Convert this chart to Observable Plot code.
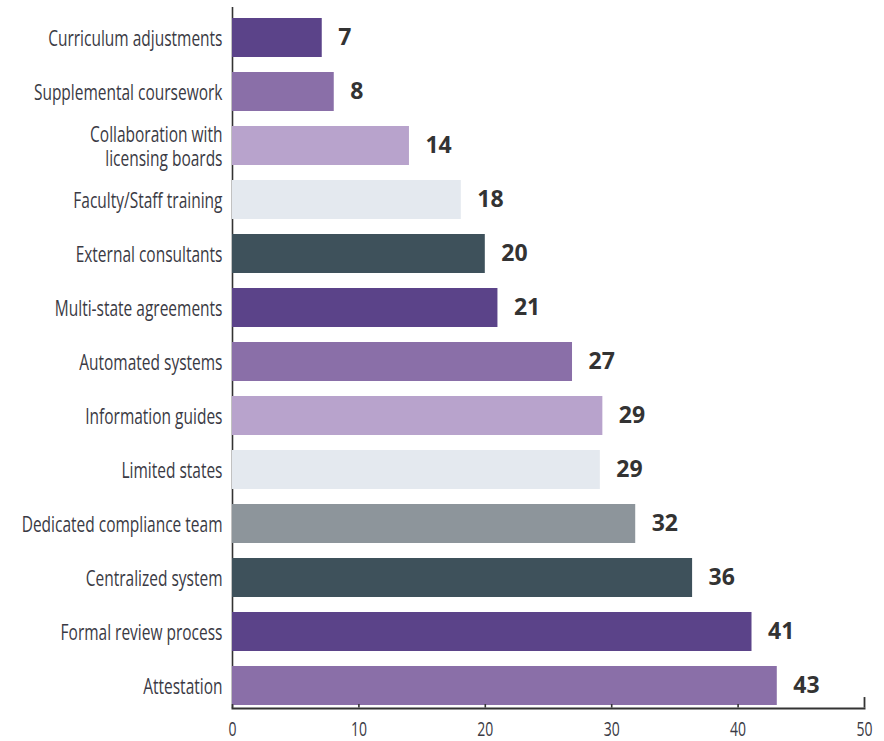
<!DOCTYPE html>
<html><head><meta charset="utf-8">
<script src="https://cdn.jsdelivr.net/npm/d3@7"></script>
<script src="https://cdn.jsdelivr.net/npm/@observablehq/plot@0.6"></script>
<style>body{margin:0;background:#fff}</style>
</head><body><div id="chart"></div>
<script>
const categories = ["Curriculum adjustments","Supplemental coursework","Collaboration with\nlicensing boards","Faculty/Staff training","External consultants","Multi-state agreements","Automated systems","Information guides","Limited states","Dedicated compliance team","Centralized system","Formal review process","Attestation"];
const values = [7.1, 8.05, 14, 18.1, 20, 21, 26.9, 29.3, 29.1, 31.9, 36.4, 41.1, 43.1];
const valueLabels = ["7","8","14","18","20","21","27","29","29","32","36","41","43"];
const colors = ["#5b4389","#8a6fa8","#b8a3cc","#e4e9ef","#3e515b","#5b4389","#8a6fa8","#b8a3cc","#e4e9ef","#8d959b","#3e515b","#5b4389","#8a6fa8"];
const xTicks = [0,10,20,30,40,50];

const data = categories.map((c,i)=>({category:c, value:values[i], label:valueLabels[i], color:colors[i]}));

const W = 884, H = 741, MT = 7, MB = 33;
const padIn = 0.27, padOut = 0.12, align = 0.8;
// band geometry, used only to place the small axis tick marks at the frame bottom
const rangeH = H - MT - MB;
const step = rangeH / (categories.length - padIn + 2 * padOut);
const bw = step * (1 - padIn);
const lastBandEnd = MT + (rangeH - step * (categories.length - padIn)) * align + step * (categories.length - 1) + bw;
const shift = (H - MB) - lastBandEnd;
const lastCat = categories[categories.length - 1];

const chart = Plot.plot({
  width: W, height: H,
  marginTop: MT, marginBottom: MB, marginLeft: 232, marginRight: 20,
  style: {fontFamily: "'Open Sans', sans-serif", color: "#333", background: "#fff"},
  x: {domain: [0,50]},
  y: {domain: categories, paddingInner: padIn, paddingOuter: padOut, align},
  color: {type: "identity"},
  marks: [
    Plot.ruleX([0], {stroke:"#333", strokeWidth:1.6}),
    Plot.barX(data, {y:"category", x:"value", fill:"color"}),
    Plot.text(data, {y:"category", x:"value", text:"label", textAnchor:"start", dx:16, fontSize:23, fontWeight:"bold", fill:"#333"}),
    Plot.axisY({tickSize:0, tickPadding:10, fontSize:15.5, lineHeight:1.1, fill:"#3a3a44", label:null}),
    Plot.axisX({ticks:xTicks, tickSize:0, tickPadding:13, fontSize:14, fill:"#3a3a44", label:null}),
    Plot.frame({anchor:"bottom", stroke:"#333", strokeWidth:2}),
    Plot.ruleX(xTicks.slice(0,5), {x:d=>d, y1:()=>lastCat, y2:()=>lastCat, insetTop: bw - 4, dy: shift, stroke:"#333", strokeWidth:1.6}),
    Plot.ruleX(xTicks.slice(5), {x:d=>d, y1:()=>lastCat, y2:()=>lastCat, insetTop: bw - 11, dy: shift, stroke:"#333", strokeWidth:1.8})
  ]
});
document.getElementById("chart").appendChild(chart);

function stretch(sel, k) {
  chart.querySelectorAll(sel).forEach(t => {
    const tr = t.getAttribute("transform") || "";
    t.setAttribute("transform", tr + ` scale(1,${k})`);
  });
}
stretch('g[aria-label="y-axis tick label"] text', 1.4);
stretch('g[aria-label="x-axis tick label"] text', 1.45);
</script>
</body></html>
